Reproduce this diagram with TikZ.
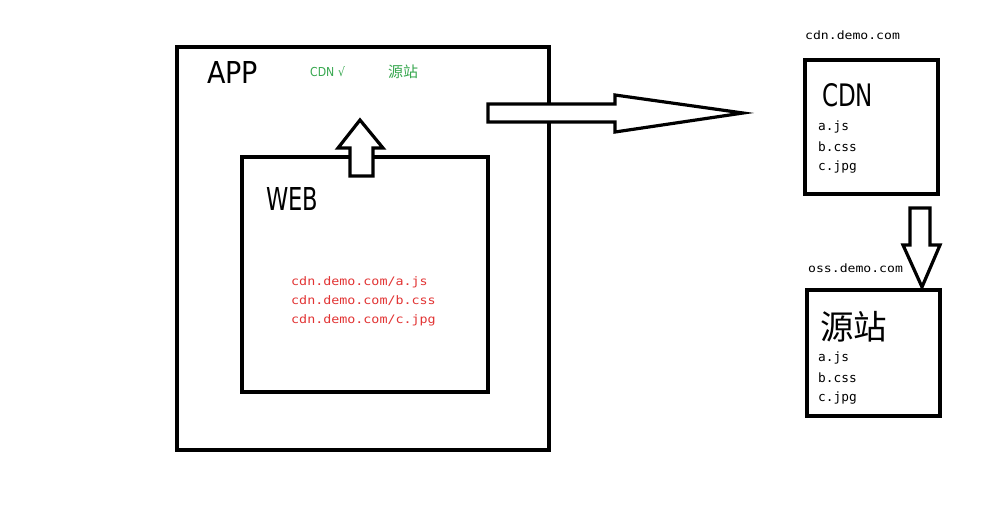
\documentclass[tikz,border=0pt]{standalone}
\usepackage{fontspec}
\usepackage{graphicx}
\setmainfont{DejaVu Sans}
\newfontfamily\monof{DejaVu Sans Mono}
\newfontfamily\monowide[FakeStretch=1.14]{DejaVu Sans Mono}
\newfontfamily\cjk{Noto Sans CJK SC}
\usetikzlibrary{positioning}
\definecolor{redtxt}{RGB}{226,52,52}
\definecolor{greentxt}{RGB}{56,168,80}
\begin{document}
\begin{tikzpicture}[x=1pt,y=-1pt,
  box/.style={draw=black,line width=4pt,fill=white,inner sep=0pt},
  blockarrow/.style={draw=black,line width=3.2pt,fill=white,line join=miter},
  title/.style={inner sep=0pt,anchor=north west},
  small/.style={inner sep=0pt,anchor=west,font=\monof\fontsize{12.8}{14}\selectfont},
  host/.style={inner sep=0pt,anchor=west,font=\monowide\fontsize{11.5}{13}\selectfont},
  redurl/.style={inner sep=0pt,anchor=west,text=redtxt,font=\monowide\fontsize{11.7}{14}\selectfont},
  green/.style={inner sep=0pt,anchor=west,text=greentxt}]
\path[fill=white] (0,0) rectangle (1005,528);
\useasboundingbox (0,0) rectangle (1005,528);
% APP box
\node[box,minimum width=372pt,minimum height=403pt] (app) at (363,248.5) {};
\node[title] (apptitle) at (207,61) {\resizebox{51pt}{22pt}{APP}};
\node[green,font=\fontsize{11}{13}\selectfont] (cdnok) at (310,72) {\resizebox{35pt}{10pt}{CDN\hspace{0.35em}√}};
\node[green,font=\cjk\fontsize{15}{17}\selectfont] (origin) at (388,72) {源站};
% WEB box
\node[box,minimum width=246pt,minimum height=235pt] (web) at (365,274.5) {};
\node[title] (webtitle) at (266,187) {\resizebox{52pt}{23pt}{WEB}};
\node[redurl] (u1) at (291,282) {cdn.demo.com/a.js};
\node[redurl] (u2) at (291,301) {cdn.demo.com/b.css};
\node[redurl] (u3) at (291,320) {cdn.demo.com/c.jpg};
% up arrow
\draw[blockarrow] (350,176) -- (350,148) -- (338,148) -- (360,120) -- (383,148) -- (373,148) -- (373,176) -- cycle;
% right arrow
\draw[blockarrow] (488,104) -- (615,104) -- (615,95) -- (743,113) -- (615,132) -- (615,122) -- (488,122) -- cycle;
% CDN box
\node[host] (cdnhost) at (805,35) {cdn.demo.com};
\node[box,minimum width=133pt,minimum height=134pt] (cdn) at (871.5,127) {};
\node[title] (cdntitle) at (822,83) {\resizebox{51pt}{23pt}{CDN}};
\node[small] (ca) at (818,127) {a.js};
\node[small] (cb) at (818,147) {b.css};
\node[small] (cc) at (818,167) {c.jpg};
% down arrow
\draw[blockarrow] (910,208) -- (930,208) -- (930,245) -- (940,245) -- (922,287) -- (903,245) -- (910,245) -- cycle;
% origin box
\node[host] (osshost) at (808,268) {oss.demo.com};
\node[box,minimum width=133pt,minimum height=126pt] (oss) at (873.5,353) {};
\node[title] (osstitle) at (820,311) {\resizebox{67pt}{!}{\cjk 源站}};
\node[small] (oa) at (818,358) {a.js};
\node[small] (ob) at (818,378) {b.css};
\node[small] (oc) at (818,398) {c.jpg};
\end{tikzpicture}
\end{document}
